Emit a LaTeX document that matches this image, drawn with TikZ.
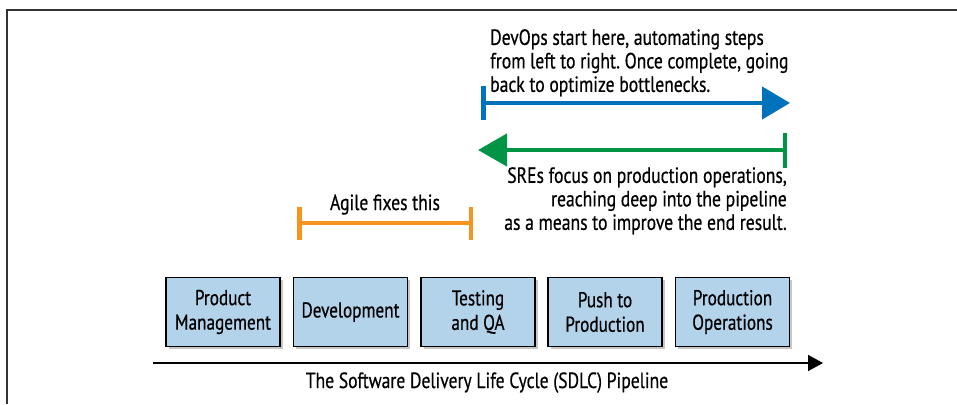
\documentclass[tikz,border=0pt]{standalone}
\usepackage{fontspec}
\setmainfont[FakeStretch=0.8, FakeBold=0.5]{PT Sans}
\usetikzlibrary{shadows,arrows.meta}
\frenchspacing
\definecolor{boxfill}{HTML}{B3D3EA}
\definecolor{devblue}{HTML}{0072BC}
\definecolor{sregreen}{HTML}{009444}
\definecolor{agileorange}{HTML}{F7941D}
\definecolor{framegray}{HTML}{333333}
\tikzset{
  stage/.style={draw=black, line width=1.5pt, fill=boxfill, minimum width=114pt, minimum height=69pt,
    align=center, inner sep=0pt, font=\fontsize{21.5}{24.5}\selectfont,
    drop shadow={shadow xshift=2.5pt, shadow yshift=-2.5pt, opacity=0.45}},
  txt/.style={inner sep=0pt, font=\fontsize{22}{23.5}\selectfont},
  frameline/.style={draw=framegray, line width=1.6pt},
}
\begin{document}
\begin{tikzpicture}[x=1pt,y=-1pt]
\useasboundingbox (0,0) rectangle (957,404);
\draw[frameline] (957,10) -| (7,404);

% stages
\node[stage] (pm) at (223,312) {Product\\Management};
\node[stage] (dev) at (350.5,312) {Development};
\node[stage] (qa) at (478,312) {Testing\\and QA};
\node[stage] (push) at (605,312) {Push to\\Production};
\node[stage] (ops) at (732.5,312) {Production\\Operations};

% pipeline axis
\coordinate (p0) at (153,363);
\coordinate (p1) at (823,363);
\draw[line width=1.6pt, -{Triangle[length=15pt,width=16pt]}] (p0) -- (p1);
\node[txt, anchor=base] (sdlc) at (487,388) {The Software Delivery Life Cycle (SDLC) Pipeline};

% agile
\coordinate (a0) at (297,223);
\coordinate (a1) at (473,223);
\draw[agileorange, line width=4.5pt, {Bar[width=33pt]}-{Bar[width=33pt]}] (a0) -- (a1);
\node[txt, anchor=base] (agile) at (385,210) {Agile fixes this};

% devops
\coordinate (b0) at (481,103);
\coordinate (b1) at (790,103);
\draw[devblue, line width=4.5pt, {Bar[width=34pt]}-{Triangle[length=28pt,width=32pt]}] (b0) -- (b1);
\node[txt, anchor=north west, align=left] (devops) at (490,29) {DevOps start here, automating steps\\from left to right. Once complete, going\\back to optimize bottlenecks.};

% sre
\coordinate (g0) at (787,150);
\coordinate (g1) at (478,150);
\draw[sregreen, line width=4.5pt, {Bar[width=35pt]}-{Triangle[length=29pt,width=32pt]}] (g0) -- (g1);
\node[txt, anchor=north east, align=right] (sre) at (787,167) {SREs focus on production operations,\\reaching deep into the pipeline\\as a means to improve the end result.};
\end{tikzpicture}
\end{document}
